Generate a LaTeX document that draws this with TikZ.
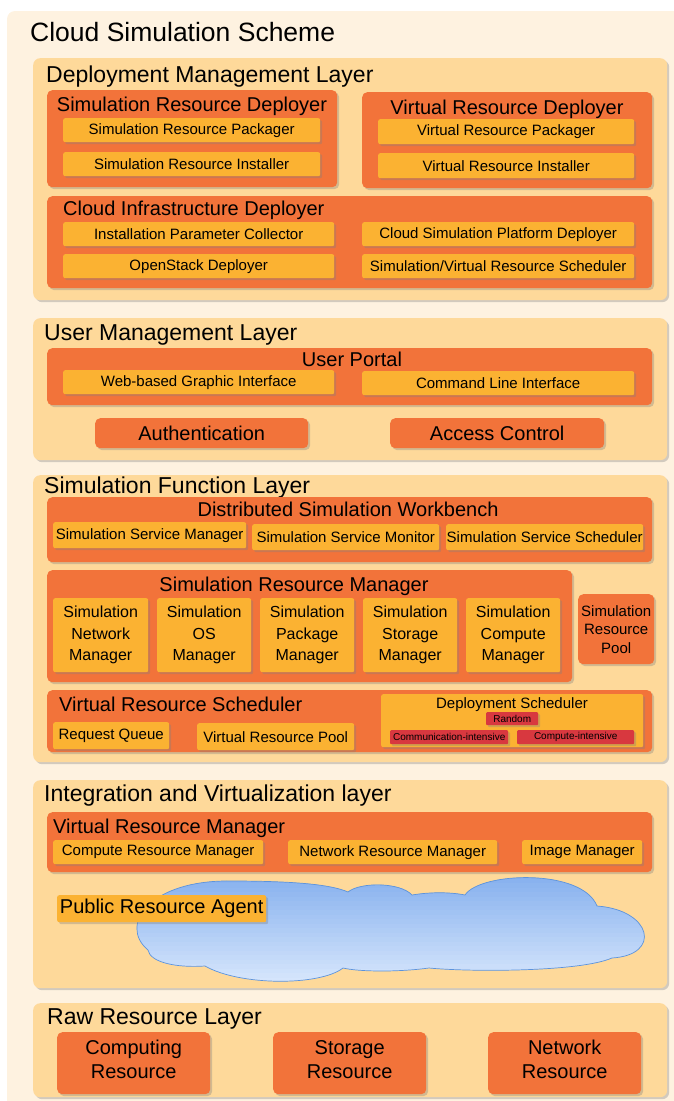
\documentclass[tikz,border=0pt]{standalone}
\usepackage{fontspec}
\setmainfont{Liberation Sans}
\usetikzlibrary{shadows}

\definecolor{bgcream}{HTML}{FEF2E0}
\definecolor{layerfill}{HTML}{FED99A}
\definecolor{boxorange}{HTML}{F2733A}
\definecolor{boxgold}{HTML}{FBB232}
\definecolor{tagred}{HTML}{D8383F}
\definecolor{cloudtop}{HTML}{86B0EE}
\definecolor{cloudbot}{HTML}{DCEAFD}
\definecolor{cloudedge}{HTML}{5C93DC}

\begin{document}
\begin{tikzpicture}[
    x=1pt, y=-1pt,
    wh/.style 2 args={minimum width=#1pt, minimum height=#2pt},
    layer/.style={
        fill=layerfill,
        rounded corners=7pt,
        anchor=north west,
        inner sep=0pt,
        drop shadow={shadow xshift=2pt, shadow yshift=-2pt, opacity=.35}
    },
    grp/.style={layer, fill=boxorange, rounded corners=5pt,
        font=\fontsize{20}{24}\selectfont},
    item/.style={layer, fill=boxgold, rounded corners=2pt,
        font=\fontsize{15}{18}\selectfont},
    mgr/.style={item, align=center, font=\fontsize{16}{21.5}\selectfont},
    tag/.style={layer, fill=tagred, rounded corners=1pt,
        font=\fontsize{10}{12}\selectfont},
    raw/.style={grp, align=center, text depth=8pt},
    lttl/.style={anchor=base west, inner sep=0pt,
        font=\fontsize{23}{27}\selectfont},
    gttl/.style={anchor=base, inner sep=0pt,
        font=\fontsize{20}{24}\selectfont}
]
\useasboundingbox (0,0) rectangle (673,1101);
\fill[bgcream, rounded corners=8pt] (7,11) rectangle (700,1130);

\node[anchor=base west, inner sep=0pt, font=\fontsize{26.5}{30}\selectfont]
    (scheme) at (30,41) {Cloud Simulation Scheme};

% deployment management
\node[layer, wh={634}{242}] (dml) at (33,58) {};
\node[lttl] (dmlt) at (46,82) {Deployment Management Layer};

\node[grp, wh={290}{97}] (srd) at (47,90) {};
\node[gttl] (srdt) at (192,111) {Simulation Resource Deployer};
\node[item, wh={257}{24}] (srpack) at (63,118) {Simulation Resource Packager};
\node[item, wh={257}{24}] (srinst) at (63,152) {Simulation Resource Installer};

\node[grp, wh={290}{96}] (vrd) at (362,92) {};
\node[gttl] (vrdt) at (507,114) {Virtual Resource Deployer};
\node[item, wh={256}{25}] (vrpack) at (378,119) {Virtual Resource Packager};
\node[item, wh={256}{25}] (vrinst) at (378,153) {Virtual Resource Installer};

\node[grp, wh={605}{92}] (cid) at (47,196) {};
\node[gttl, anchor=base west] (cidt) at (63,215) {Cloud Infrastructure Deployer};
\node[item, wh={271}{24}] (ipc) at (63,222) {Installation Parameter Collector};
\node[item, wh={271}{24}] (osd) at (63,254) {OpenStack Deployer};
\node[item, wh={272}{24}] (cspd) at (362,222) {Cloud Simulation Platform Deployer};
\node[item, wh={272}{24}] (svrs) at (362,254) {Simulation/Virtual Resource Scheduler};

% user management
\node[layer, wh={634}{142}] (uml) at (33,318) {};
\node[lttl] (umlt) at (44,340) {User Management Layer};

\node[grp, wh={605}{57}] (portal) at (47,348) {};
\node[gttl] (portalt) at (352,366) {User Portal};
\node[item, wh={271}{24}] (webgui) at (63,370) {Web-based Graphic Interface};
\node[item, wh={272}{24}] (cli) at (362,371) {Command Line Interface};

\node[grp, wh={213}{30}] (auth) at (95,418) {Authentication};
\node[grp, wh={214}{30}] (acl) at (390,418) {Access Control};

% simulation function
\node[layer, wh={634}{287}] (sfl) at (33,475) {};
\node[lttl] (sflt) at (44,493) {Simulation Function Layer};

\node[grp, wh={605}{65}] (dsw) at (47,497) {};
\node[gttl] (dswt) at (348,516) {Distributed Simulation Workbench};
\node[item, wh={193}{26}] (ssman) at (53,522) {Simulation Service Manager};
\node[item, wh={187}{26}] (ssmon) at (252,524) {Simulation Service Monitor};
\node[item, wh={197}{26}] (sssch) at (446,524) {Simulation Service Scheduler};

\node[grp, wh={525}{112}] (srm) at (47,570) {};
\node[gttl] (srmt) at (294,591) {Simulation Resource Manager};
\node[mgr, wh={95}{74}] (netm) at (53,598) {Simulation\\Network\\Manager};
\node[mgr, wh={94}{74}] (osm) at (157,598) {Simulation\\OS\\Manager};
\node[mgr, wh={94}{74}] (pkgm) at (260,598) {Simulation\\Package\\Manager};
\node[mgr, wh={94}{74}] (stom) at (363,598) {Simulation\\Storage\\Manager};
\node[mgr, wh={94}{74}] (cpum) at (466,598) {Simulation\\Compute\\Manager};
\node[grp, wh={76}{70}, align=center, font=\fontsize{15}{18.5}\selectfont]
    (srpool) at (578,594) {Simulation\\Resource\\Pool};

\node[grp, wh={605}{62}] (vrs) at (47,690) {};
\node[gttl, anchor=base west] (vrst) at (59,711) {Virtual Resource Scheduler};
\node[item, wh={116}{27}] (rq) at (53,722) {Request Queue};
\node[item, wh={157}{27}] (vrpool) at (197,723) {Virtual Resource Pool};
\node[item, wh={262}{53}] (dsch) at (381,694) {};
\node[anchor=base, inner sep=0pt, font=\fontsize{15}{18}\selectfont]
    (dscht) at (512,708) {Deployment Scheduler};
\node[tag, wh={52}{13}] (rnd) at (486,712) {Random};
\node[tag, wh={118}{14}] (commi) at (390,730) {Communication-intensive};
\node[tag, wh={117}{14}] (compi) at (517,730) {Compute-intensive};

% integration and virtualization
\node[layer, wh={634}{208}] (ivl) at (33,780) {};
\node[lttl] (ivlt) at (44,801) {Integration and Virtualization layer};

\node[grp, wh={605}{60}] (vrm) at (47,812) {};
\node[gttl, anchor=base west] (vrmt) at (53,833) {Virtual Resource Manager};
\node[item, wh={210}{24}] (crm) at (53,840) {Compute Resource Manager};
\node[item, wh={209}{24}] (nrm) at (288,840) {Network Resource Manager};
\node[item, wh={120}{24}] (imgm) at (522,840) {Image Manager};

% public cloud, blue at the top fading out downwards
\path[save path=\cloudpath]
    (148,950) .. controls (118,925) and (150,880) .. (230,881)
    .. controls (290,881) and (330,884) .. (348,892)
    .. controls (360,882) and (400,882) .. (412,895)
    .. controls (430,892) and (450,892) .. (465,895)
    .. controls (480,872) and (582,868) .. (597,906)
    .. controls (652,910) and (662,955) .. (612,958)
    .. controls (580,972) and (470,972) .. (429,968)
    .. controls (400,972) and (360,972) .. (343,968)
    .. controls (320,986) and (240,986) .. (205,966)
    .. controls (175,968) and (150,962) .. cycle;
\begin{scope}
    \clip[use path=\cloudpath];
    \foreach \k [evaluate=\k as \pc using int(4*\k)] in {0,...,24}
        \fill[cloudbot!\pc!cloudtop] (120,{874+4.5*\k}) rectangle (670,{880+4.5*\k});
\end{scope}
\draw[cloudedge, line width=0.7pt, use path=\cloudpath];
\node[item, wh={209}{27}, font=\fontsize{20}{24}\selectfont]
    (pra) at (57,895) {Public Resource Agent};

% raw resources
\node[layer, wh={634}{94}] (rrl) at (33,1003) {};
\node[lttl] (rrlt) at (47,1024) {Raw Resource Layer};
\node[raw, wh={153}{62}] (cres) at (57,1032) {Computing\\Resource};
\node[raw, wh={153}{62}] (sres) at (273,1032) {Storage\\Resource};
\node[raw, wh={153}{62}] (nres) at (488,1032) {Network\\Resource};

\end{tikzpicture}
\end{document}
